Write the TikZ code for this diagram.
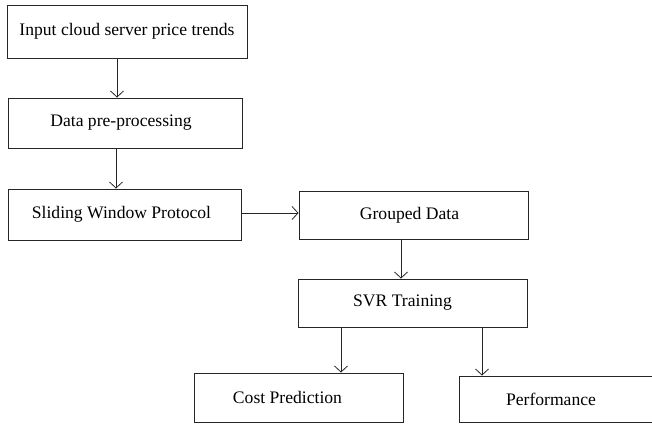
\documentclass[tikz,border=0pt]{standalone}
\usepackage{fontspec}
\setmainfont{Liberation Serif}
\usetikzlibrary{arrows.meta}
\begin{document}
\begin{tikzpicture}[x=1pt,y=-1pt,
  box/.style={draw=black!85,line width=0.9pt,rectangle,inner sep=0pt,font=\fontsize{17.6}{20}\selectfont},
  conn/.style={draw=black!85,line width=0.9pt,-{Straight Barb[length=6pt,width=13pt,line width=0.8pt]}}]
\useasboundingbox (0,0) rectangle (652,423);
\clip (0,0) rectangle (652,423);
\node[box,minimum width=240pt,minimum height=53pt] (b1) at (127,31.5) {Input cloud server price trends};
\node[box,minimum width=234pt,minimum height=50pt] (b2) at (125,123) {\hspace*{-8pt}Data pre-processing};
\node[box,minimum width=233pt,minimum height=51pt] (b3) at (124.5,214.5) {\hspace*{-6pt}Sliding Window Protocol};
\node[box,minimum width=229pt,minimum height=48pt] (b4) at (413.5,215) {\hspace*{-8pt}Grouped Data};
\node[box,minimum width=229pt,minimum height=48pt] (b5) at (412.5,303) {\hspace*{-20pt}SVR Training};
\node[box,minimum width=209pt,minimum height=49pt] (b6) at (298.5,397.5) {\hspace*{-22pt}Cost Prediction};
\node[box,minimum width=260pt,minimum height=46pt] (b7) at (589,399) {\hspace*{-76pt}Performance};
\draw[conn] (b1.south -| 117,0) -- (b2.north -| 117,0);
\draw[conn] (b2.south -| 116,0) -- (b3.north -| 116,0);
\draw[conn] (b3.east |- 0,213) -- (b4.west |- 0,213);
\draw[conn] (b4.south -| 401,0) -- (b5.north -| 401,0);
\draw[conn] (b5.south -| 341,0) -- (b6.north -| 341,0);
\draw[conn] (b5.south -| 482,0) -- (b7.north -| 482,0);
\end{tikzpicture}
\end{document}
